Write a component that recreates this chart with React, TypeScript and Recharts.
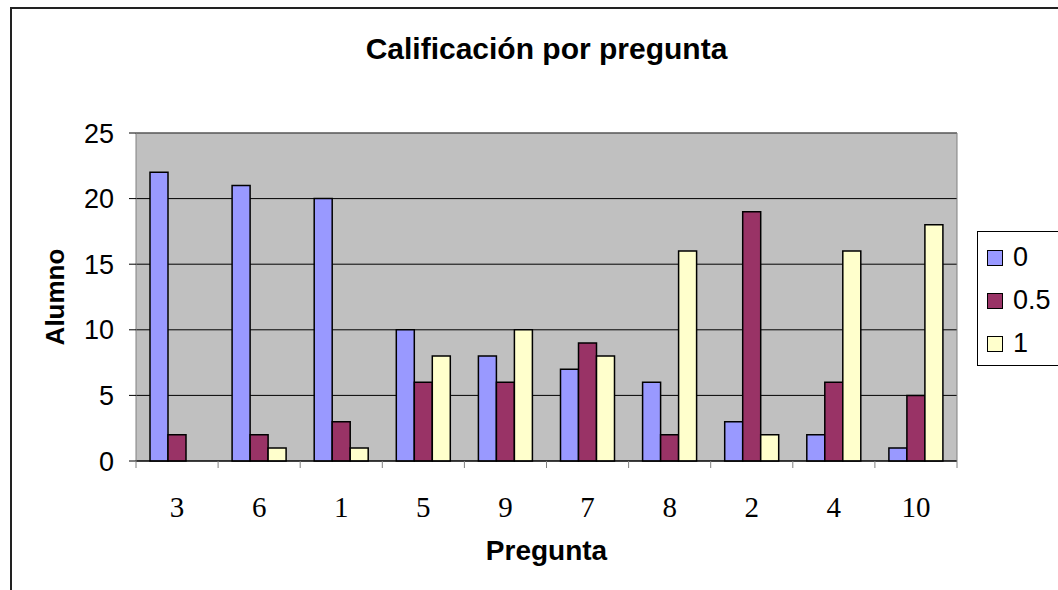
import { BarChart, Bar, XAxis, YAxis, CartesianGrid, Legend, ReferenceLine } from 'recharts';

const preguntas = ['3', '6', '1', '5', '9', '7', '8', '2', '4', '10'];
const cero = [22, 21, 20, 10, 8, 7, 6, 3, 2, 1];
const medio = [2, 2, 3, 6, 6, 9, 2, 19, 6, 5];
const uno = [0, 1, 1, 8, 10, 8, 16, 2, 16, 18];
const yTicks = [0, 5, 10, 15, 20, 25];

const SERIES = [
  { key: 'cero', name: '0', color: '#9999FF' },
  { key: 'medio', name: '0.5', color: '#993366' },
  { key: 'uno', name: '1', color: '#FFFFCC' },
];

const data = preguntas.map((p, i) => ({ pregunta: p, cero: cero[i], medio: medio[i], uno: uno[i] }));

const SANS = '"Liberation Sans", Arial, sans-serif';
const SERIF = '"Liberation Serif", "Times New Roman", serif';

const W = 1058;
const H = 590;
const MARGIN = { top: 133, right: 100, bottom: 29, left: 16 };
const Y_AXIS_W = 120;
const PLOT_W = W - MARGIN.left - MARGIN.right - Y_AXIS_W - 1;

// Excel puts the x tick marks between categories, not under them
const CategoryTick = (props: any) => {
  const { x, y, payload, index } = props;
  const half = PLOT_W / preguntas.length / 2;
  return (
    <g>
      <line x1={x - half} x2={x - half} y1={y} y2={y + 7} stroke="#808080" />
      {index === preguntas.length - 1 && (
        <line x1={x + half} x2={x + half} y1={y} y2={y + 7} stroke="#808080" />
      )}
      <text x={x} y={y + 56} textAnchor="middle" fontFamily={SERIF} fontSize={29} fill="#000">
        {payload.value}
      </text>
    </g>
  );
};

const LegendBox = (props: any) => {
  const { payload } = props;
  return (
    <div style={{ border: '1px solid #000', width: 100, paddingTop: 4, background: '#fff', fontFamily: SANS }}>
      {(payload || []).map((entry: any) => (
        <div key={entry.value} style={{ height: 43, display: 'flex', alignItems: 'center' }}>
          <span
            style={{
              display: 'inline-block',
              width: 14,
              height: 14,
              marginLeft: 9,
              marginRight: 10,
              border: '1px solid #000',
              background: entry.color,
            }}
          />
          <span style={{ fontSize: 27, color: '#000' }}>{entry.value}</span>
        </div>
      ))}
    </div>
  );
};

export default function App() {
  return (
    <div style={{ position: 'absolute', left: 0, top: 0, width: W, height: H, overflow: 'hidden', background: '#fff' }}>
      <div
        style={{
          position: 'absolute',
          left: 10,
          top: 7,
          width: W + 20,
          height: H + 20,
          border: '2px solid #222',
        }}
      />
      <div
        style={{
          position: 'absolute',
          left: 136,
          top: 32,
          width: 821,
          textAlign: 'center',
          fontFamily: SANS,
          fontWeight: 'bold',
          fontSize: 30,
          lineHeight: '34px',
          color: '#000',
        }}
      >
        Calificación por pregunta
      </div>
      <div style={{ position: 'absolute', left: 0, top: 0 }}>
        <BarChart width={W} height={H} data={data} margin={MARGIN} barGap={0} barSize={18}>
          <CartesianGrid vertical={false} stroke="#000" fill="#C0C0C0" yAxisId="left" />
          <XAxis
            dataKey="pregunta"
            height={100}
            axisLine={{ stroke: '#000' }}
            tickLine={false}
            tickSize={0}
            tickMargin={0}
            tick={<CategoryTick />}
            interval={0}
            label={{
              value: 'Pregunta',
              position: 'insideBottom',
              offset: 1,
              style: { fontFamily: SANS, fontWeight: 'bold', fontSize: 28, fill: '#000' },
            }}
          />
          <YAxis
            yAxisId="left"
            width={Y_AXIS_W}
            domain={[0, 25]}
            ticks={yTicks}
            axisLine={{ stroke: '#808080' }}
            tickLine={{ stroke: '#000' }}
            tickSize={7}
            tickMargin={15}
            tick={{ fontFamily: SANS, fontSize: 27, fill: '#000' }}
            label={{
              value: 'Alumno',
              angle: -90,
              position: 'center',
              dx: -21,
              style: { fontFamily: SANS, fontWeight: 'bold', fontSize: 26, fill: '#000' },
            }}
          />
          <YAxis yAxisId="right" orientation="right" width={1} domain={[0, 25]} tick={false} tickLine={false} axisLine={{ stroke: '#808080' }} />
          <ReferenceLine yAxisId="left" y={25} stroke="#808080" />
          {SERIES.map(s => (
            <Bar
              key={s.key}
              yAxisId="left"
              dataKey={s.key}
              name={s.name}
              fill={s.color}
              stroke="#000"
              strokeWidth={1.5}
              isAnimationActive={false}
            />
          ))}
          <Legend
            layout="horizontal"
            verticalAlign="middle"
            align="center"
            wrapperStyle={{ left: 977, top: 231, width: 110 }}
            content={<LegendBox />}
          />
        </BarChart>
      </div>
    </div>
  );
}
